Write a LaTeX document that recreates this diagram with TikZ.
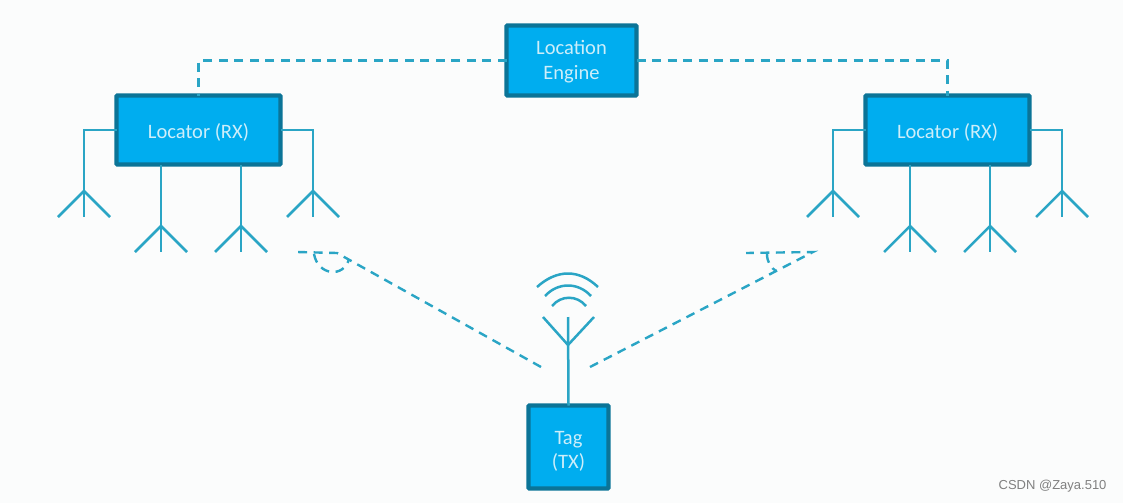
\documentclass[tikz,border=0pt]{standalone}
\usepackage{fontspec}
\setmainfont{Carlito}
\newfontfamily\markfont{Liberation Sans}
\usetikzlibrary{positioning}
\definecolor{boxfill}{HTML}{00ADEF}
\definecolor{boxline}{HTML}{0B7497}
\definecolor{wirecol}{HTML}{2AA5C5}
\definecolor{boxtext}{HTML}{CDEEFA}
\definecolor{paper}{HTML}{FBFCFC}
\newcommand{\lowtext}[2]{\raisebox{-#1}[\height][\depth]{#2}}

\begin{document}
\begin{tikzpicture}[
    x=1pt, y=-1pt,
    box/.style={
        rectangle,
        draw=boxline,
        fill=boxfill,
        line width=4.2pt,
        rounded corners=0.8pt,
        outer sep=0pt,
        inner sep=0pt,
        text=boxtext,
        font=\fontsize{20.5}{25}\selectfont,
        align=center
    },
    wire/.style={draw=wirecol,line width=2.5pt},
    link/.style={wire,dash pattern=on 9pt off 6.5pt,line width=2.4pt}
]
\useasboundingbox[fill=paper] (0,0) rectangle (1123,503);

\node[box, minimum width=130pt, minimum height=70pt] (engine) at (571.5,60.5) {\lowtext{1.5pt}{Location}\\\lowtext{1.5pt}{Engine}};
\node[box, minimum width=164pt, minimum height=69pt] (locl) at (198.5,130) {\lowtext{2pt}{Locator (RX)}};
\node[box, minimum width=164pt, minimum height=69pt] (locr) at (947.5,130) {\lowtext{2pt}{Locator (RX)}};
\node[box, minimum width=80pt, minimum height=83pt] (tag) at (568.5,447) {\lowtext{4.5pt}{Tag}\\\lowtext{4pt}{(TX)}};

\node[text=black!50, font=\markfont\fontsize{13}{13}\selectfont, anchor=east] (mark) at (1110,486) {CSDN @Zaya.510};

% antennas
\foreach \name/\x/\y in {al1/84/217, al2/161/252, al3/241/252, al4/313/217,
                         ar1/833/217, ar2/910/252, ar3/990/252, ar4/1062/217} {
    \coordinate (\name) at (\x,\y);
    \draw[wire] (\name) ++(-26,0) -- ++(26,-26) -- ++(26,26);
}

\draw[wire] (locl.west) -| (al1);
\draw[wire] (locl.south -| al2) -- (al2);
\draw[wire] (locl.south -| al3) -- (al3);
\draw[wire] (locl.east) -| (al4);
\draw[wire] (locr.west) -| (ar1);
\draw[wire] (locr.south -| ar2) -- (ar2);
\draw[wire] (locr.south -| ar3) -- (ar3);
\draw[wire] (locr.east) -| (ar4);

% tag antenna
\coordinate (tagtop) at (568,317);
\coordinate (tagfork) at (568,345);
\draw[wire] (tag.north) -- (tagtop);
\draw[wire] (543,317) -- (tagfork) -- (594,317);
\draw[wire] (537,287) .. controls (557,269) and (579,269) .. (598,287);
\draw[wire] (545,296) .. controls (558,282) and (578,282) .. (591,296);
\draw[wire] (552,306) .. controls (561,295) and (577,295) .. (586,306);

% links
\draw[link] (engine.west) -| (locl.north);
\draw[link] (engine.east) -| (locr.north);

% angles
\coordinate (anglel) at (337,253);
\coordinate (angler) at (813,252);
\draw[link] (541,367) -- (anglel) -- (297,252);
\draw[link] (590,367) -- (angler) -- (746,253);
\draw[link] (314,254) .. controls (318,276) and (344,278) .. (349,259);
\draw[link] (767,254) .. controls (767,262) and (771,268) .. (776,271);

\end{tikzpicture}
\end{document}
